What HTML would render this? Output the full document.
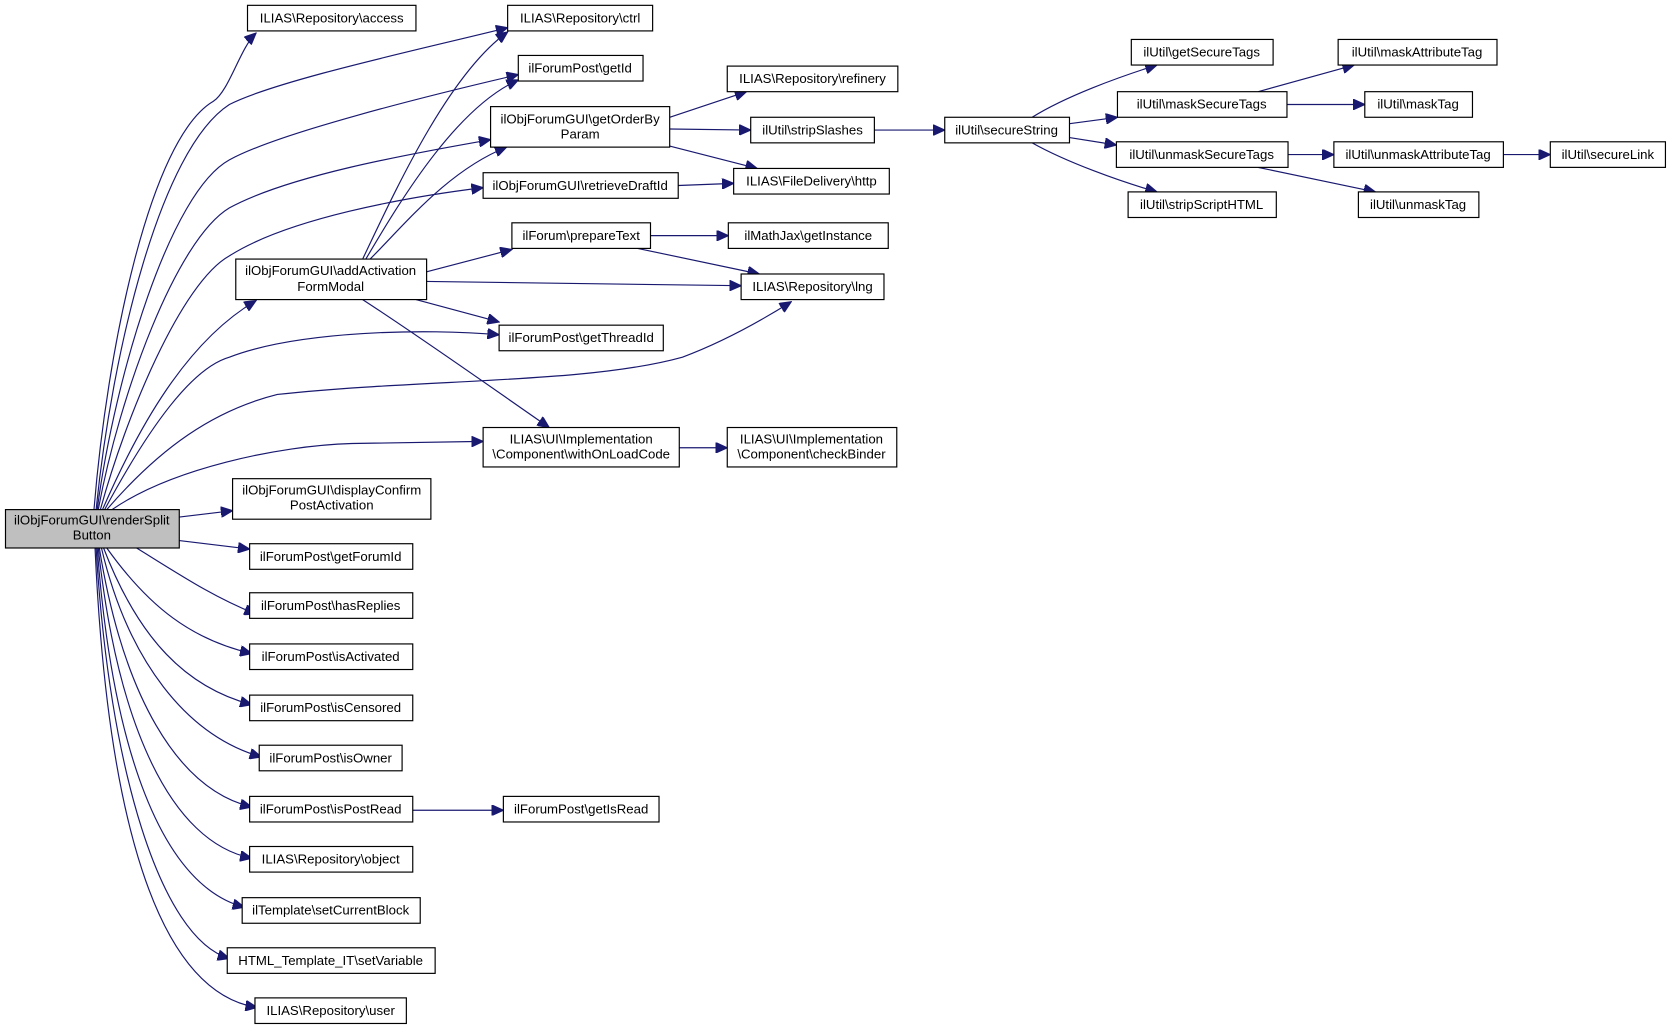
<!DOCTYPE html>
<html><head><meta charset="utf-8"><style>
html,body{margin:0;padding:0;background:#fff}
svg{display:block}
text{font-family:"Liberation Sans",Arial,sans-serif;font-size:12.4px;fill:#000;text-anchor:middle}
rect{fill:#fff;stroke:#000;stroke-width:1.1}
path{fill:none;stroke:#191970;stroke-width:1.1}
</style></head><body>
<svg width="1672" height="1032" viewBox="0 0 1568 968" xmlns="http://www.w3.org/2000/svg">
<defs><marker id="a" markerUnits="userSpaceOnUse" markerWidth="12" markerHeight="10" refX="11" refY="5" orient="auto"><path d="M0,0 L11,5 L0,10 Z" style="fill:#191970;stroke:#191970"/></marker></defs>
<g marker-end="url(#a)">
<path d="M88,478 C100,330 140,130 200,95 C215,85 225,45 240,31"/>
<path d="M90,478 C105,330 150,140 215,98 C260,75 400,45 476,26"/>
<path d="M91,478 C108,350 160,180 215,150 C260,125 400,90 486,70"/>
<path d="M92,478 C112,370 165,225 215,195 C270,165 380,145 460,131"/>
<path d="M94,478 C118,390 170,265 215,240 C270,205 380,185 453,176"/>
<path d="M96,478 C130,400 175,320 240,282"/>
<path d="M98,478 C140,400 180,345 215,335 C280,310 400,308 468,314"/>
<path d="M100,478 C150,420 200,385 260,370 C400,355 550,360 640,335 C680,320 715,300 742,283"/>
<path d="M105,478 C160,440 260,418 330,416 L453,414"/>
<path d="M168,485 L218,479"/>
<path d="M168,507 L234,515"/>
<path d="M128,514 C170,540 200,560 240,576"/>
<path d="M100,514 C140,570 180,600 236,613"/>
<path d="M97,514 C130,600 175,645 236,661"/>
<path d="M95,514 C120,620 175,690 245,710"/>
<path d="M93,514 C115,650 165,740 236,757"/>
<path d="M92,514 C110,680 160,790 236,805"/>
<path d="M91,514 C105,700 150,830 229,851"/>
<path d="M90,514 C102,720 150,880 215,899"/>
<path d="M89,514 C100,760 145,930 241,945"/>
<path d="M340,243 C370,180 420,70 476,30"/>
<path d="M343,243 C380,180 430,100 486,75"/>
<path d="M347,243 C380,210 420,160 475,138"/>
<path d="M400,262 L480,250" style="display:none"/>
<path d="M400,255 L480,234"/>
<path d="M400,264 L695,268"/>
<path d="M390,281 L468,302"/>
<path d="M340,281 C400,320 470,370 515,401"/>
<path d="M628,110 L700,86"/>
<path d="M628,121 L704,122"/>
<path d="M628,137 L710,158"/>
<path d="M636,174 L688,172"/>
<path d="M610,221 L683,221"/>
<path d="M598,233 L712,257"/>
<path d="M637,420 L682,420"/>
<path d="M387,760 L472,760"/>
<path d="M820,122 L886,122"/>
<path d="M968,110 C1000,90 1050,72 1085,61"/>
<path d="M1003,116 L1048,110"/>
<path d="M1003,129 L1047,136"/>
<path d="M968,134 C1000,152 1050,170 1085,180"/>
<path d="M1180,86 L1270,61"/>
<path d="M1207,98 L1280,98"/>
<path d="M1208,145 L1251,145"/>
<path d="M1180,157 L1290,180"/>
<path d="M1410,145 L1454,145"/>
</g>
<rect x="5" y="478" width="163" height="36" style="fill:#bfbfbf"/><text x="86" y="492">ilObjForumGUI\renderSplit</text><text x="86" y="506">Button</text>
<rect x="232" y="5" width="158" height="24"/><text x="311" y="21">ILIAS\Repository\access</text>
<rect x="476" y="5" width="136" height="24"/><text x="544" y="21">ILIAS\Repository\ctrl</text>
<rect x="486" y="52" width="117" height="24"/><text x="544" y="68">ilForumPost\getId</text>
<rect x="460" y="100" width="168" height="38"/><text x="544" y="116">ilObjForumGUI\getOrderBy</text><text x="544" y="130">Param</text>
<rect x="453" y="162" width="183" height="24"/><text x="544" y="178">ilObjForumGUI\retrieveDraftId</text>
<rect x="221" y="243" width="179" height="38"/><text x="310" y="258">ilObjForumGUI\addActivation</text><text x="310" y="273">FormModal</text>
<rect x="480" y="209" width="130" height="24"/><text x="545" y="225">ilForum\prepareText</text>
<rect x="468" y="305" width="154" height="24"/><text x="545" y="321">ilForumPost\getThreadId</text>
<rect x="453" y="401" width="184" height="37"/><text x="545" y="416">ILIAS\UI\Implementation</text><text x="545" y="430">\Component\withOnLoadCode</text>
<rect x="218" y="449" width="186" height="38"/><text x="311" y="464">ilObjForumGUI\displayConfirm</text><text x="311" y="478">PostActivation</text>
<rect x="234" y="510" width="153" height="24"/><text x="310" y="526">ilForumPost\getForumId</text>
<rect x="234" y="556" width="153" height="24"/><text x="310" y="572">ilForumPost\hasReplies</text>
<rect x="234" y="604" width="153" height="24"/><text x="310" y="620">ilForumPost\isActivated</text>
<rect x="234" y="652" width="153" height="24"/><text x="310" y="668">ilForumPost\isCensored</text>
<rect x="243" y="699" width="134" height="24"/><text x="310" y="715">ilForumPost\isOwner</text>
<rect x="234" y="747" width="153" height="24"/><text x="310" y="763">ilForumPost\isPostRead</text>
<rect x="234" y="794" width="153" height="24"/><text x="310" y="810">ILIAS\Repository\object</text>
<rect x="227" y="842" width="167" height="24"/><text x="310" y="858">ilTemplate\setCurrentBlock</text>
<rect x="213" y="889" width="195" height="24"/><text x="310" y="905">HTML_Template_IT\setVariable</text>
<rect x="239" y="936" width="142" height="24"/><text x="310" y="952">ILIAS\Repository\user</text>
<rect x="682" y="62" width="160" height="24"/><text x="762" y="78">ILIAS\Repository\refinery</text>
<rect x="704" y="110" width="116" height="24"/><text x="762" y="126">ilUtil\stripSlashes</text>
<rect x="688" y="158" width="146" height="24"/><text x="761" y="174">ILIAS\FileDelivery\http</text>
<rect x="683" y="209" width="150" height="24"/><text x="758" y="225">ilMathJax\getInstance</text>
<rect x="695" y="257" width="134" height="24"/><text x="762" y="273">ILIAS\Repository\lng</text>
<rect x="472" y="747" width="146" height="24"/><text x="545" y="763">ilForumPost\getIsRead</text>
<rect x="682" y="401" width="159" height="37"/><text x="761" y="416">ILIAS\UI\Implementation</text><text x="761" y="430">\Component\checkBinder</text>
<rect x="886" y="110" width="117" height="24"/><text x="944" y="126">ilUtil\secureString</text>
<rect x="1061" y="37" width="133" height="24"/><text x="1127" y="53">ilUtil\getSecureTags</text>
<rect x="1048" y="86" width="159" height="24"/><text x="1127" y="102">ilUtil\maskSecureTags</text>
<rect x="1047" y="133" width="161" height="24"/><text x="1127" y="149">ilUtil\unmaskSecureTags</text>
<rect x="1058" y="180" width="139" height="24"/><text x="1127" y="196">ilUtil\stripScriptHTML</text>
<rect x="1255" y="37" width="149" height="24"/><text x="1329" y="53">ilUtil\maskAttributeTag</text>
<rect x="1280" y="86" width="101" height="24"/><text x="1330" y="102">ilUtil\maskTag</text>
<rect x="1251" y="133" width="159" height="24"/><text x="1330" y="149">ilUtil\unmaskAttributeTag</text>
<rect x="1274" y="180" width="113" height="24"/><text x="1330" y="196">ilUtil\unmaskTag</text>
<rect x="1454" y="133" width="108" height="24"/><text x="1508" y="149">ilUtil\secureLink</text>
</svg>
</body></html>
